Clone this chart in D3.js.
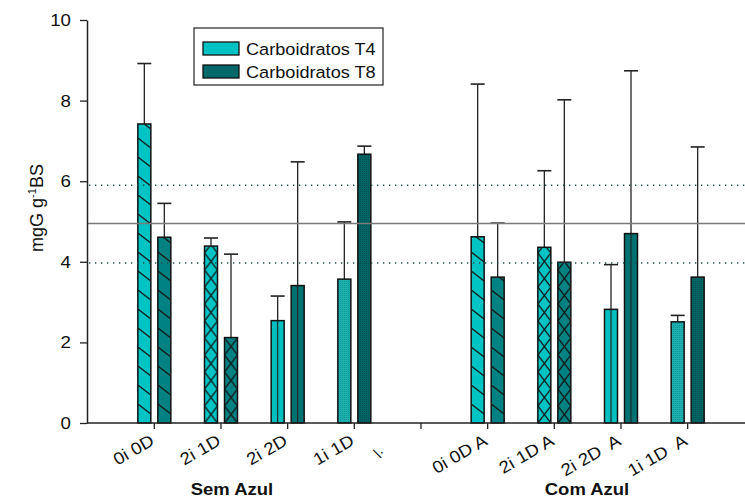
<!DOCTYPE html>
<html>
<head>
<meta charset="utf-8">
<script src="https://cdnjs.cloudflare.com/ajax/libs/d3/7.8.5/d3.min.js"></script>
<style>
  body { margin: 0; background: #fff; }
  svg { display: block; font-family: "Liberation Sans", Arial, sans-serif; }
</style>
</head>
<body>
<div id="chart"></div>
<script>
// categories along the x axis (5th one is the empty gap between the two groups)
var categories = ["0i 0D", "2i 1D", "2i 2D", "1i 1D", "\\·", "0i 0D A", "2i 1D A", "2i 2D  A", "1i 1D  A"];
var fills = ["diag", "cross", "vert", "dots", null, "diag", "cross", "vert", "dots"];
// mean values
var t4 = [7.42, 4.39, 2.54, 3.57, null, 4.62, 4.36, 2.82, 2.51];
var t8 = [4.61, 2.12, 3.41, 6.67, null, 3.62, 3.99, 4.70, 3.62];
// upper error (sd)
var t4Sd = [1.50, 0.20, 0.61, 1.42, null, 3.79, 1.90, 1.11, 0.16];
var t8Sd = [0.84, 2.07, 3.07, 0.20, null, 1.34, 4.03, 4.04, 3.23];
var yTicks = [0, 2, 4, 6, 8, 10];
var meanLine = 4.95;
var sdLines = [5.90, 3.97];
var groups = [{ name: "Sem Azul", x: 232 }, { name: "Com Azul", x: 587 }];
var seriesNames = ["Carboidratos T4", "Carboidratos T8"];

var colors = {
  T4: { diag: "#00c4c4", cross: "#00c4c4", vert: "#00c0c0", dots: "#1fb0b0", dot: "#0b9595" },
  T8: { diag: "#008282", cross: "#008282", vert: "#007272", dots: "#006666", dot: "#004c4c" }
};
var legendColors = ["#00c2c2", "#006868"];

var W = 745, H = 499;
var x0 = 87, xEnd = 745, yTop = 20, yBase = 423;
var stretch = 1.1; // text in the original is a bit wide

var svg = d3.select("#chart").append("svg").attr("width", W).attr("height", H);
var defs = svg.append("defs");

var x = d3.scaleBand().domain(categories).range([121, 721]).padding(0);
var y = d3.scaleLinear().domain([0, 10]).range([yBase, yTop]);
var barW = 13;

// build table of bars
var bars = [];
categories.forEach(function (c, i) {
  if (t4[i] == null) return;
  var cx = x(c) + x.bandwidth() / 2;
  bars.push({ i: i, s: "T4", v: t4[i], sd: t4Sd[i], left: cx - 16.5, fill: fills[i] });
  bars.push({ i: i, s: "T8", v: t8[i], sd: t8Sd[i], left: cx + 3.5, fill: fills[i] });
});

// one pattern per bar so hatches line up with bar edges
bars.forEach(function (b, k) {
  var col = colors[b.s];
  var id = "pat" + k;
  b.id = id;
  var p;
  if (b.fill === "diag") {
    p = defs.append("pattern").attr("id", id).attr("patternUnits", "userSpaceOnUse")
      .attr("x", b.left).attr("y", yBase).attr("width", barW).attr("height", 19);
    p.append("rect").attr("width", barW).attr("height", 19).attr("fill", col.diag);
    p.append("line").attr("x1", 0).attr("y1", 0).attr("x2", barW).attr("y2", 10)
      .attr("stroke", "#111").attr("stroke-width", 1.3);
  } else if (b.fill === "cross") {
    p = defs.append("pattern").attr("id", id).attr("patternUnits", "userSpaceOnUse")
      .attr("x", b.left).attr("y", yBase).attr("width", barW).attr("height", 17);
    p.append("rect").attr("width", barW).attr("height", 17).attr("fill", col.cross);
    p.append("line").attr("x1", 0).attr("y1", 0).attr("x2", barW).attr("y2", 17)
      .attr("stroke", "#111").attr("stroke-width", 1.3);
    p.append("line").attr("x1", barW).attr("y1", 0).attr("x2", 0).attr("y2", 17)
      .attr("stroke", "#111").attr("stroke-width", 1.3);
  } else if (b.fill === "vert") {
    p = defs.append("pattern").attr("id", id).attr("patternUnits", "userSpaceOnUse")
      .attr("x", b.left).attr("y", yBase).attr("width", barW).attr("height", 10);
    p.append("rect").attr("width", barW).attr("height", 10).attr("fill", col.vert);
    p.append("line").attr("x1", barW / 2).attr("y1", 0).attr("x2", barW / 2).attr("y2", 10)
      .attr("stroke", "#222").attr("stroke-width", 1.2);
  } else {
    p = defs.append("pattern").attr("id", id).attr("patternUnits", "userSpaceOnUse")
      .attr("x", b.left).attr("y", yBase).attr("width", 2).attr("height", 2);
    p.append("rect").attr("width", 2).attr("height", 2).attr("fill", col.dots);
    p.append("rect").attr("width", 1).attr("height", 1).attr("fill", col.dot);
  }
});

// error bars (upper only)
var err = svg.append("g").attr("class", "errors");
bars.forEach(function (b) {
  var cx = b.left + barW / 2;
  err.append("line").attr("x1", cx).attr("x2", cx)
    .attr("y1", y(b.v)).attr("y2", y(b.v + b.sd))
    .attr("stroke", "#222").attr("stroke-width", 1.3);
  err.append("line").attr("x1", cx - 7).attr("x2", cx + 7)
    .attr("y1", y(b.v + b.sd)).attr("y2", y(b.v + b.sd))
    .attr("stroke", "#222").attr("stroke-width", 1.6);
});

// bars
svg.append("g").selectAll("rect").data(bars).enter().append("rect")
  .attr("x", function (d) { return d.left; })
  .attr("y", function (d) { return y(d.v); })
  .attr("width", barW)
  .attr("height", function (d) { return y(0) - y(d.v); })
  .attr("fill", function (d) { return "url(#" + d.id + ")"; })
  .attr("stroke", "#111").attr("stroke-width", 1.5);

// reference lines on top of the bars
svg.append("line").attr("x1", x0).attr("x2", xEnd)
  .attr("y1", y(meanLine)).attr("y2", y(meanLine))
  .attr("stroke", "#7a7a7a").attr("stroke-width", 1.5);
svg.selectAll(".sdline").data(sdLines).enter().append("line").attr("class", "sdline")
  .attr("x1", x0 + 2).attr("x2", xEnd)
  .attr("y1", function (d) { return y(d); }).attr("y2", function (d) { return y(d); })
  .attr("stroke", "#1d4f4f").attr("stroke-width", 1.3).attr("stroke-dasharray", "1.3,4.7");

// y axis
var yAxis = d3.axisLeft(y).tickValues(yTicks).tickSize(7).tickSizeOuter(0).tickPadding(8);
var gy = svg.append("g").attr("transform", "translate(" + x0 + ",0)").call(yAxis);
gy.attr("font-size", null).attr("font-family", null);
gy.select(".domain").attr("stroke", "#222").attr("stroke-width", 1.5);
gy.selectAll(".tick line").attr("stroke", "#222").attr("stroke-width", 1.3);
gy.selectAll(".tick text").style("font-size", "17px").attr("fill", "#111")
  .attr("x", 0).attr("transform", "translate(-16,0) scale(" + stretch + ",1)");

// x axis
var xAxis = d3.axisBottom(x).tickSize(6).tickSizeOuter(0);
var gx = svg.append("g").attr("transform", "translate(0," + yBase + ")").call(xAxis);
gx.attr("font-size", null).attr("font-family", null);
gx.select(".domain").remove();
gx.append("line").attr("x1", x0).attr("x2", xEnd).attr("y1", 0).attr("y2", 0)
  .attr("stroke", "#222").attr("stroke-width", 1.5);
gx.selectAll(".tick line").attr("stroke", "#222").attr("stroke-width", 1.3);
gx.selectAll(".tick text")
  .style("white-space", "pre").attr("fill", "#111")
  .attr("x", 0).attr("y", 0).attr("dy", 0)
  .attr("text-anchor", "end")
  .attr("transform", function (d, i) {
    if (t4[i] == null) return "translate(-35,32) rotate(-30)";
    return "translate(1,21) rotate(-30) scale(" + stretch + ",1)";
  })
  .style("font-size", function (d, i) { return t4[i] == null ? "15px" : "17px"; });

// y label
var yl = svg.append("text").attr("transform", "translate(43,208) rotate(-90)")
  .attr("text-anchor", "middle").style("font-size", "18px").attr("fill", "#111");
yl.append("tspan").text("mgG g");
yl.append("tspan").attr("dy", -7).style("font-size", "11px").text("-1");
yl.append("tspan").attr("dy", 7).text("BS");

// group labels
svg.selectAll(".grp").data(groups).enter().append("text").attr("class", "grp")
  .attr("transform", function (d) { return "translate(" + d.x + ",495) scale(1.12,1)"; })
  .attr("text-anchor", "middle").style("font-size", "16.5px").style("font-weight", "bold")
  .attr("fill", "#111").text(function (d) { return d.name; });

// legend
var lg = svg.append("g").attr("transform", "translate(194,28)");
lg.append("rect").attr("width", 189).attr("height", 57)
  .attr("fill", "#fff").attr("stroke", "#222").attr("stroke-width", 1.2);
var items = lg.selectAll(".item").data(seriesNames).enter().append("g")
  .attr("transform", function (d, i) { return "translate(9," + (14 + i * 23) + ")"; });
items.append("rect").attr("width", 36).attr("height", 13)
  .attr("fill", function (d, i) { return legendColors[i]; })
  .attr("stroke", "#111").attr("stroke-width", 1.3);
items.append("text").attr("transform", "translate(43,12.5) scale(" + stretch + ",1)")
  .style("font-size", "16.5px").attr("fill", "#111").text(function (d) { return d; });
</script>
</body>
</html>
